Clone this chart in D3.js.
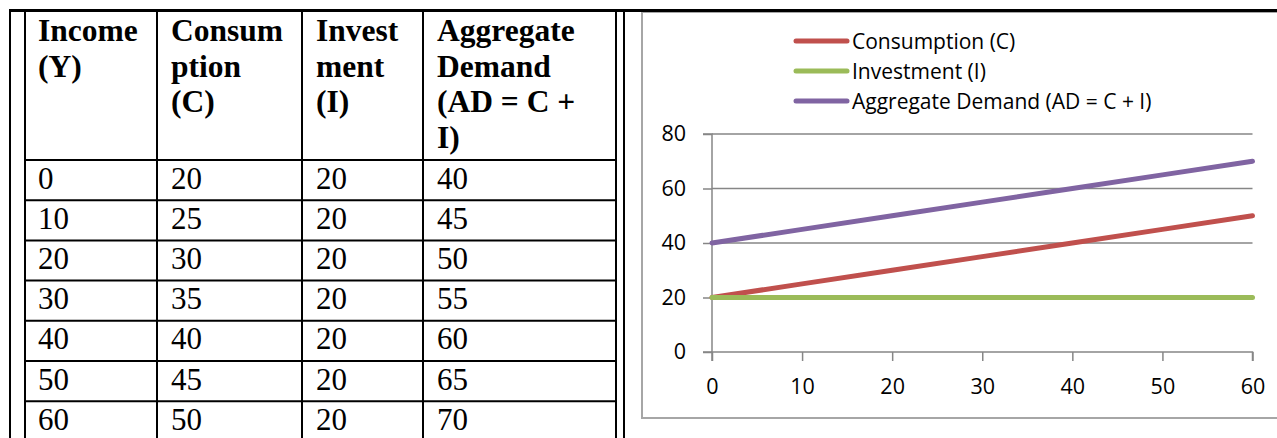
<!DOCTYPE html>
<html>
<head>
<meta charset="utf-8">
<script src="https://cdn.jsdelivr.net/npm/d3@7"></script>
<style>
html,body{margin:0;padding:0;background:#fff;overflow:hidden;}
svg{display:block;}
</style>
</head>
<body>
<svg id="c" width="1277" height="438"></svg>
<script>
// ---- data ----
const headers = [
  ["Income", "(Y)"],
  ["Consum", "ption", "(C)"],
  ["Invest", "ment", "(I)"],
  ["Aggregate", "Demand", "(AD = C +", "I)"]
];
const income = [0, 10, 20, 30, 40, 50, 60];
const consumption = [20, 25, 30, 35, 40, 45, 50];
const investment = [20, 20, 20, 20, 20, 20, 20];
const aggregateDemand = [40, 45, 50, 55, 60, 65, 70];
const seriesNames = ["Consumption (C)", "Investment (I)", "Aggregate Demand (AD = C + I)"];
const seriesColors = ["#C0504D", "#9BBB59", "#8064A2"];
const xTicks = [0, 10, 20, 30, 40, 50, 60];
const yTicks = [0, 20, 40, 60, 80];

const svg = d3.select("#c");

// ---- table ----
const colEdges = [24, 157, 302, 423, 616];
const headerTop = 10, headerBottom = 160, rowH = 40.2;
const tg = svg.append("g");
const rowsData = income.map((d, i) => [d, consumption[i], investment[i], aggregateDemand[i]]);
const serif = "'Liberation Serif', 'Times New Roman', serif";

// header text
headers.forEach((lines, c) => {
  const t = tg.append("text")
    .attr("font-family", serif)
    .attr("font-weight", "bold")
    .attr("font-size", 31.5)
    .attr("fill", "#000");
  lines.forEach((ln, k) => {
    t.append("tspan").attr("x", colEdges[c] + 14).attr("y", 41 + k * 35.5).text(ln);
  });
});
// body text
rowsData.forEach((r, i) => {
  r.forEach((v, c) => {
    tg.append("text")
      .attr("x", colEdges[c] + 14)
      .attr("y", headerBottom + i * rowH + 28.5)
      .attr("font-family", serif)
      .attr("font-size", 31)
      .attr("fill", "#000")
      .text(v);
  });
});
// horizontal lines
const hl = [headerBottom].concat(rowsData.map((d, i) => headerBottom + (i + 1) * rowH));
hl.forEach(y => {
  tg.append("line").attr("x1", 24).attr("x2", 616).attr("y1", y).attr("y2", y)
    .attr("stroke", "#000").attr("stroke-width", 2);
});
// vertical lines
[10, 25, 157, 302, 423, 616, 624].forEach(x => {
  tg.append("line").attr("x1", x).attr("x2", x).attr("y1", headerTop).attr("y2", 440)
    .attr("stroke", "#000").attr("stroke-width", 2);
});

// ---- chart ----
const cg = svg.append("g");
cg.append("rect").attr("x", 642).attr("y", 12).attr("width", 700).attr("height", 406)
  .attr("fill", "#fff").attr("stroke", "#A6A6A6").attr("stroke-width", 2);
// top black line
svg.append("line").attr("x1", 9).attr("x2", 1277).attr("y1", 10.5).attr("y2", 10.5)
  .attr("stroke", "#000").attr("stroke-width", 3);

const x = d3.scaleLinear().domain([0, 60]).range([712, 1252.5]);
const y = d3.scaleLinear().domain([0, 80]).range([352, 134]);
const chartFont = "'Open Sans', Lato, sans-serif";
const axisColor = "#868686";

// gridlines
cg.append("g").selectAll("line").data(yTicks.filter(d => d > 0)).join("line")
  .attr("x1", x(0)).attr("x2", x(60)).attr("y1", d => y(d)).attr("y2", d => y(d))
  .attr("stroke", axisColor).attr("stroke-width", 1.5);

// y axis
const yAxis = cg.append("g").attr("transform", `translate(${x(0)},0)`)
  .call(d3.axisLeft(y).tickValues(yTicks).tickSize(9).tickPadding(17));
// x axis
const xAxis = cg.append("g").attr("transform", `translate(0,${y(0)})`)
  .call(d3.axisBottom(x).tickValues(xTicks).tickSize(9).tickPadding(18));
[yAxis, xAxis].forEach(a => {
  a.select(".domain").attr("stroke", axisColor).attr("stroke-width", 1.5);
  a.selectAll(".tick line").attr("stroke", axisColor).attr("stroke-width", 1.5);
  a.selectAll(".tick text").attr("font-family", chartFont).attr("font-size", 21.5).attr("fill", "#000");
});
xAxis.select(".domain").attr("d", `M${x(0)},9V0H${x(60)}V9`);
yAxis.select(".domain").attr("d", `M-9,${y(80)}H0V${y(0)}H-9`);

// series lines
const allSeries = [consumption, investment, aggregateDemand];
const line = d3.line().x((d, i) => x(income[i])).y(d => y(d));
// draw order: AD, C, I so green stays on top of red at start
[2, 0, 1].forEach(s => {
  cg.append("path").datum(allSeries[s]).attr("d", line)
    .attr("fill", "none").attr("stroke", seriesColors[s]).attr("stroke-width", 5)
    .attr("stroke-linecap", "round").attr("stroke-linejoin", "round");
});

// legend
const lg = cg.append("g");
seriesNames.forEach((n, i) => {
  const ly = 41 + i * 30;
  lg.append("line").attr("x1", 796).attr("x2", 847).attr("y1", ly).attr("y2", ly)
    .attr("stroke", seriesColors[i]).attr("stroke-width", 5).attr("stroke-linecap", "round");
  lg.append("text").attr("x", 852).attr("y", ly + 8)
    .attr("font-family", chartFont).attr("font-size", 21).attr("fill", "#000").text(n);
});
</script>
</body>
</html>
